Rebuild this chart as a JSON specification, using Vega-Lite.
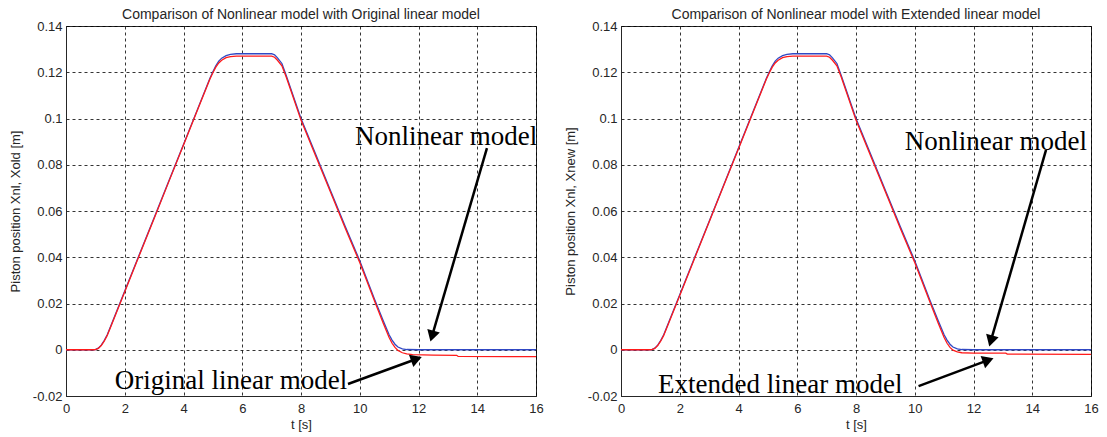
{
  "$schema": "https://vega.github.io/schema/vega-lite/v6.json",
  "background": "white",
  "padding": {"left": 8, "top": 7, "right": 5, "bottom": 5},
  "config": {
    "view": {"stroke": "#262626", "strokeWidth": 1},
    "axis": {
      "labelFont": "Liberation Sans", "labelFontSize": 13, "labelColor": "#262626",
      "titleFont": "Liberation Sans", "titleFontSize": 13, "titleFontWeight": "normal", "titleColor": "#262626",
      "domainColor": "#262626", "grid": true, "gridColor": "#000000", "gridDash": [3, 3],
      "gridOpacity": 1, "gridWidth": 0.8, "ticks": false
    },
    "title": {"font": "Liberation Sans", "fontSize": 14, "fontWeight": "normal", "color": "#262626", "offset": -2}
  },
  "datasets": {
    "lines": [
      {"p":"L","s":"N","t":0,"x":0},{"p":"L","s":"N","t":0.95,"x":0},{"p":"L","s":"N","t":1.0,"x":0.0001},{"p":"L","s":"N","t":1.1,"x":0.0007},{"p":"L","s":"N","t":1.2,"x":0.002},{"p":"L","s":"N","t":1.3,"x":0.004},{"p":"L","s":"N","t":1.4,"x":0.0064},{"p":"L","s":"N","t":1.5,"x":0.0095},{"p":"L","s":"N","t":2.0,"x":0.0254},{"p":"L","s":"N","t":2.5,"x":0.0413},{"p":"L","s":"N","t":3.0,"x":0.0571},{"p":"L","s":"N","t":3.5,"x":0.073},{"p":"L","s":"N","t":4.0,"x":0.0888},{"p":"L","s":"N","t":4.5,"x":0.1047},{"p":"L","s":"N","t":4.9,"x":0.1174},{"p":"L","s":"N","t":5.0,"x":0.1202},{"p":"L","s":"N","t":5.1,"x":0.1228},{"p":"L","s":"N","t":5.2,"x":0.1248},{"p":"L","s":"N","t":5.3,"x":0.1261},{"p":"L","s":"N","t":5.45,"x":0.1272},{"p":"L","s":"N","t":5.6,"x":0.1277},{"p":"L","s":"N","t":5.8,"x":0.128},{"p":"L","s":"N","t":7.0,"x":0.128},{"p":"L","s":"N","t":7.1,"x":0.1275},{"p":"L","s":"N","t":7.2,"x":0.1262},{"p":"L","s":"N","t":7.35,"x":0.1238},{"p":"L","s":"N","t":7.5,"x":0.1185},{"p":"L","s":"N","t":8.0,"x":0.1},{"p":"L","s":"N","t":8.5,"x":0.0845},{"p":"L","s":"N","t":9.0,"x":0.069},{"p":"L","s":"N","t":9.5,"x":0.0535},{"p":"L","s":"N","t":10.0,"x":0.0385},{"p":"L","s":"N","t":10.5,"x":0.022},{"p":"L","s":"N","t":10.8,"x":0.0125},{"p":"L","s":"N","t":11.0,"x":0.0065},{"p":"L","s":"N","t":11.1,"x":0.0042},{"p":"L","s":"N","t":11.2,"x":0.0024},{"p":"L","s":"N","t":11.3,"x":0.0012},{"p":"L","s":"N","t":11.45,"x":0.0004},{"p":"L","s":"N","t":11.6,"x":0.0001},{"p":"L","s":"N","t":12.0,"x":0},{"p":"L","s":"N","t":16,"x":0},
      {"p":"L","s":"O","t":0,"x":0},{"p":"L","s":"O","t":0.95,"x":0},{"p":"L","s":"O","t":1.0,"x":0.0001},{"p":"L","s":"O","t":1.1,"x":0.0006},{"p":"L","s":"O","t":1.2,"x":0.0018},{"p":"L","s":"O","t":1.3,"x":0.0037},{"p":"L","s":"O","t":1.4,"x":0.0061},{"p":"L","s":"O","t":1.5,"x":0.0092},{"p":"L","s":"O","t":2.0,"x":0.0251},{"p":"L","s":"O","t":2.5,"x":0.041},{"p":"L","s":"O","t":3.0,"x":0.0568},{"p":"L","s":"O","t":3.5,"x":0.0727},{"p":"L","s":"O","t":4.0,"x":0.0885},{"p":"L","s":"O","t":4.5,"x":0.1044},{"p":"L","s":"O","t":4.9,"x":0.1171},{"p":"L","s":"O","t":5.0,"x":0.1198},{"p":"L","s":"O","t":5.1,"x":0.1222},{"p":"L","s":"O","t":5.2,"x":0.124},{"p":"L","s":"O","t":5.3,"x":0.1252},{"p":"L","s":"O","t":5.45,"x":0.1263},{"p":"L","s":"O","t":5.6,"x":0.1268},{"p":"L","s":"O","t":5.8,"x":0.127},{"p":"L","s":"O","t":7.0,"x":0.127},{"p":"L","s":"O","t":7.1,"x":0.1265},{"p":"L","s":"O","t":7.2,"x":0.1252},{"p":"L","s":"O","t":7.35,"x":0.1228},{"p":"L","s":"O","t":7.5,"x":0.1178},{"p":"L","s":"O","t":8.0,"x":0.0993},{"p":"L","s":"O","t":8.5,"x":0.0838},{"p":"L","s":"O","t":9.0,"x":0.0683},{"p":"L","s":"O","t":9.5,"x":0.0528},{"p":"L","s":"O","t":10.0,"x":0.0377},{"p":"L","s":"O","t":10.5,"x":0.0212},{"p":"L","s":"O","t":10.8,"x":0.0115},{"p":"L","s":"O","t":11.0,"x":0.0053},{"p":"L","s":"O","t":11.1,"x":0.0028},{"p":"L","s":"O","t":11.2,"x":0.001},{"p":"L","s":"O","t":11.3,"x":-0.0003},{"p":"L","s":"O","t":11.45,"x":-0.0013},{"p":"L","s":"O","t":11.6,"x":-0.0018},{"p":"L","s":"O","t":11.8,"x":-0.0021},{"p":"L","s":"O","t":12.5,"x":-0.0023},{"p":"L","s":"O","t":13.3,"x":-0.0024},{"p":"L","s":"O","t":13.35,"x":-0.0029},{"p":"L","s":"O","t":16,"x":-0.003},
      {"p":"R","s":"N","t":0,"x":0},{"p":"R","s":"N","t":1.0,"x":0},{"p":"R","s":"N","t":1.05,"x":0.0001},{"p":"R","s":"N","t":1.15,"x":0.0007},{"p":"R","s":"N","t":1.25,"x":0.002},{"p":"R","s":"N","t":1.35,"x":0.004},{"p":"R","s":"N","t":1.45,"x":0.0064},{"p":"R","s":"N","t":1.55,"x":0.0095},{"p":"R","s":"N","t":2.0,"x":0.0238},{"p":"R","s":"N","t":2.5,"x":0.0397},{"p":"R","s":"N","t":3.0,"x":0.0555},{"p":"R","s":"N","t":3.5,"x":0.0714},{"p":"R","s":"N","t":4.0,"x":0.0872},{"p":"R","s":"N","t":4.5,"x":0.1031},{"p":"R","s":"N","t":4.95,"x":0.1174},{"p":"R","s":"N","t":5.05,"x":0.1202},{"p":"R","s":"N","t":5.15,"x":0.1228},{"p":"R","s":"N","t":5.25,"x":0.1248},{"p":"R","s":"N","t":5.35,"x":0.1261},{"p":"R","s":"N","t":5.5,"x":0.1272},{"p":"R","s":"N","t":5.65,"x":0.1277},{"p":"R","s":"N","t":5.85,"x":0.128},{"p":"R","s":"N","t":7.0,"x":0.128},{"p":"R","s":"N","t":7.1,"x":0.1275},{"p":"R","s":"N","t":7.2,"x":0.1262},{"p":"R","s":"N","t":7.35,"x":0.1238},{"p":"R","s":"N","t":7.5,"x":0.1185},{"p":"R","s":"N","t":8.0,"x":0.1},{"p":"R","s":"N","t":8.5,"x":0.0845},{"p":"R","s":"N","t":9.0,"x":0.069},{"p":"R","s":"N","t":9.5,"x":0.0535},{"p":"R","s":"N","t":10.0,"x":0.0385},{"p":"R","s":"N","t":10.5,"x":0.022},{"p":"R","s":"N","t":10.8,"x":0.0125},{"p":"R","s":"N","t":11.0,"x":0.0065},{"p":"R","s":"N","t":11.1,"x":0.0042},{"p":"R","s":"N","t":11.2,"x":0.0024},{"p":"R","s":"N","t":11.3,"x":0.0012},{"p":"R","s":"N","t":11.45,"x":0.0004},{"p":"R","s":"N","t":11.6,"x":0.0001},{"p":"R","s":"N","t":12.0,"x":0},{"p":"R","s":"N","t":16,"x":0},
      {"p":"R","s":"E","t":0,"x":0},{"p":"R","s":"E","t":1.0,"x":0},{"p":"R","s":"E","t":1.05,"x":0.0001},{"p":"R","s":"E","t":1.15,"x":0.0006},{"p":"R","s":"E","t":1.25,"x":0.0018},{"p":"R","s":"E","t":1.35,"x":0.0037},{"p":"R","s":"E","t":1.45,"x":0.0061},{"p":"R","s":"E","t":1.55,"x":0.0092},{"p":"R","s":"E","t":2.0,"x":0.0235},{"p":"R","s":"E","t":2.5,"x":0.0394},{"p":"R","s":"E","t":3.0,"x":0.0552},{"p":"R","s":"E","t":3.5,"x":0.0711},{"p":"R","s":"E","t":4.0,"x":0.0869},{"p":"R","s":"E","t":4.5,"x":0.1028},{"p":"R","s":"E","t":4.95,"x":0.1171},{"p":"R","s":"E","t":5.05,"x":0.1198},{"p":"R","s":"E","t":5.15,"x":0.1222},{"p":"R","s":"E","t":5.25,"x":0.124},{"p":"R","s":"E","t":5.35,"x":0.1252},{"p":"R","s":"E","t":5.5,"x":0.1263},{"p":"R","s":"E","t":5.65,"x":0.1268},{"p":"R","s":"E","t":5.85,"x":0.127},{"p":"R","s":"E","t":7.0,"x":0.127},{"p":"R","s":"E","t":7.1,"x":0.1265},{"p":"R","s":"E","t":7.2,"x":0.1252},{"p":"R","s":"E","t":7.35,"x":0.1228},{"p":"R","s":"E","t":7.5,"x":0.1178},{"p":"R","s":"E","t":8.0,"x":0.0993},{"p":"R","s":"E","t":8.5,"x":0.0838},{"p":"R","s":"E","t":9.0,"x":0.0683},{"p":"R","s":"E","t":9.5,"x":0.0528},{"p":"R","s":"E","t":10.0,"x":0.0377},{"p":"R","s":"E","t":10.5,"x":0.0212},{"p":"R","s":"E","t":10.8,"x":0.0115},{"p":"R","s":"E","t":11.0,"x":0.0053},{"p":"R","s":"E","t":11.1,"x":0.0028},{"p":"R","s":"E","t":11.2,"x":0.001},{"p":"R","s":"E","t":11.3,"x":-0.0002},{"p":"R","s":"E","t":11.45,"x":-0.0009},{"p":"R","s":"E","t":11.6,"x":-0.0013},{"p":"R","s":"E","t":12.0,"x":-0.0015},{"p":"R","s":"E","t":13.1,"x":-0.0015},{"p":"R","s":"E","t":13.15,"x":-0.0019},{"p":"R","s":"E","t":16,"x":-0.002}
    ],
    "notes": [
      {"p":"L","label":"Nonlinear model","t":12.94,"x":0.092},
      {"p":"L","label":"Original linear model","t":5.62,"x":-0.0135},
      {"p":"R","label":"Nonlinear model","t":12.76,"x":0.0898},
      {"p":"R","label":"Extended linear model","t":5.42,"x":-0.0152}
    ],
    "arrows": [
      {"p":"L","t0":14.33,"x0":0.0872,"t1":12.46,"x1":0.0059,"ang":196},
      {"p":"L","t0":9.6,"x0":-0.0148,"t1":11.93,"x1":-0.004,"ang":70},
      {"p":"R","t0":14.47,"x0":0.0864,"t1":12.59,"x1":0.0038,"ang":196},
      {"p":"R","t0":10.13,"x0":-0.0157,"t1":12.5,"x1":-0.0045,"ang":70}
    ]
  },
  "spacing": 85,
  "bounds": "flush",
  "hconcat": [
    {
      "width": 470, "height": 370,
      "title": "Comparison of Nonlinear model with Original linear model",
      "layer": [
        {
          "data": {"name": "lines"},
          "transform": [{"filter": "datum.p === 'L' && datum.s === 'N'"}],
          "mark": {"type": "line", "color": "#3048c4", "strokeWidth": 1.3},
          "encoding": {
            "x": {"field": "t", "type": "quantitative", "scale": {"domain": [0, 16], "nice": false},
                  "axis": {"title": "t [s]", "values": [0,2,4,6,8,10,12,14,16], "labelPadding": 6, "titlePadding": 3, "labelFlush": false}},
            "y": {"field": "x", "type": "quantitative", "scale": {"domain": [-0.02, 0.14], "nice": false},
                  "axis": {"title": "Piston position Xnl, Xold [m]", "values": [-0.02,0,0.02,0.04,0.06,0.08,0.1,0.12,0.14],
                           "labelExpr": "replace(format(datum.value, '.2~f'), '−', '-')", "labelPadding": 4, "titlePadding": 10, "labelFlush": false}}
          }
        },
        {
          "data": {"name": "lines"},
          "transform": [{"filter": "datum.p === 'L' && datum.s === 'O'"}],
          "mark": {"type": "line", "color": "#ff1a1a", "strokeWidth": 1.3},
          "encoding": {"x": {"field": "t", "type": "quantitative"}, "y": {"field": "x", "type": "quantitative"}}
        },
        {
          "data": {"name": "arrows"},
          "transform": [{"filter": "datum.p === 'L'"}],
          "mark": {"type": "rule", "color": "#000000", "strokeWidth": 2.5},
          "encoding": {"x": {"field": "t0", "type": "quantitative"}, "y": {"field": "x0", "type": "quantitative"},
                       "x2": {"field": "t1"}, "y2": {"field": "x1"}}
        },
        {
          "data": {"name": "arrows"},
          "transform": [{"filter": "datum.p === 'L'"}],
          "mark": {"type": "point", "shape": "triangle-up", "filled": true, "color": "#000000", "opacity": 1, "size": 170},
          "encoding": {"x": {"field": "t1", "type": "quantitative"}, "y": {"field": "x1", "type": "quantitative"},
                       "angle": {"field": "ang", "type": "quantitative", "scale": null}}
        },
        {
          "data": {"name": "notes"},
          "transform": [{"filter": "datum.p === 'L'"}],
          "mark": {"type": "text", "font": "Liberation Serif", "fontSize": 27, "color": "#000000", "baseline": "middle", "align": "center"},
          "encoding": {"x": {"field": "t", "type": "quantitative"}, "y": {"field": "x", "type": "quantitative"}, "text": {"field": "label"}}
        }
      ]
    },
    {
      "width": 470, "height": 370,
      "title": "Comparison of Nonlinear model with Extended linear model",
      "layer": [
        {
          "data": {"name": "lines"},
          "transform": [{"filter": "datum.p === 'R' && datum.s === 'N'"}],
          "mark": {"type": "line", "color": "#3048c4", "strokeWidth": 1.3},
          "encoding": {
            "x": {"field": "t", "type": "quantitative", "scale": {"domain": [0, 16], "nice": false},
                  "axis": {"title": "t [s]", "values": [0,2,4,6,8,10,12,14,16], "labelPadding": 6, "titlePadding": 3, "labelFlush": false}},
            "y": {"field": "x", "type": "quantitative", "scale": {"domain": [-0.02, 0.14], "nice": false},
                  "axis": {"title": "Piston position Xnl, Xnew [m]", "values": [-0.02,0,0.02,0.04,0.06,0.08,0.1,0.12,0.14],
                           "labelExpr": "replace(format(datum.value, '.2~f'), '−', '-')", "labelPadding": 4, "titlePadding": 10, "labelFlush": false}}
          }
        },
        {
          "data": {"name": "lines"},
          "transform": [{"filter": "datum.p === 'R' && datum.s === 'E'"}],
          "mark": {"type": "line", "color": "#ff1a1a", "strokeWidth": 1.3},
          "encoding": {"x": {"field": "t", "type": "quantitative"}, "y": {"field": "x", "type": "quantitative"}}
        },
        {
          "data": {"name": "arrows"},
          "transform": [{"filter": "datum.p === 'R'"}],
          "mark": {"type": "rule", "color": "#000000", "strokeWidth": 2.5},
          "encoding": {"x": {"field": "t0", "type": "quantitative"}, "y": {"field": "x0", "type": "quantitative"},
                       "x2": {"field": "t1"}, "y2": {"field": "x1"}}
        },
        {
          "data": {"name": "arrows"},
          "transform": [{"filter": "datum.p === 'R'"}],
          "mark": {"type": "point", "shape": "triangle-up", "filled": true, "color": "#000000", "opacity": 1, "size": 170},
          "encoding": {"x": {"field": "t1", "type": "quantitative"}, "y": {"field": "x1", "type": "quantitative"},
                       "angle": {"field": "ang", "type": "quantitative", "scale": null}}
        },
        {
          "data": {"name": "notes"},
          "transform": [{"filter": "datum.p === 'R'"}],
          "mark": {"type": "text", "font": "Liberation Serif", "fontSize": 27, "color": "#000000", "baseline": "middle", "align": "center"},
          "encoding": {"x": {"field": "t", "type": "quantitative"}, "y": {"field": "x", "type": "quantitative"}, "text": {"field": "label"}}
        }
      ]
    }
  ]
}
